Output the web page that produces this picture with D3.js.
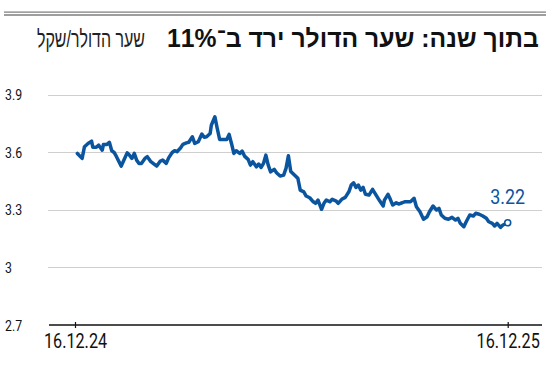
<!DOCTYPE html>
<html>
<head>
<meta charset="utf-8">
<script src="https://cdn.jsdelivr.net/npm/d3@7"></script>
<style>
  body { margin: 0; background: #fff; }
  svg { display: block; }
  .narrow { font-family: "Roboto", "Liberation Sans", sans-serif; }
</style>
</head>
<body>
<div id="chart"></div>
<script>
// day offsets from 16.12.24 and USD/ILS rate
var days = [2, 6, 8, 11, 14, 15, 18, 20, 23, 24, 27, 29, 31, 33, 35, 39, 41, 44, 46, 48,
    50, 52, 54, 56, 59, 61, 64, 67, 69, 72, 74, 77, 79, 82, 84, 86, 89, 91, 94, 96,
    99, 101, 104, 107, 109, 111, 114, 115, 118, 120, 122, 125, 128, 130, 132, 134, 136, 139, 141, 143,
    146, 148, 150, 153, 155, 157, 159, 161, 163, 165, 168, 170, 173, 176, 178, 180, 182, 186, 188, 190,
    193, 195, 198, 201, 203, 205, 208, 210, 212, 215, 217, 220, 222, 225, 228, 231, 233, 235, 237, 239,
    241, 243, 245, 248, 251, 254, 257, 260, 261, 264, 266, 268, 271, 273, 276, 278, 283, 286, 288, 291,
    294, 297, 299, 302, 305, 307, 309, 312, 315, 318, 321, 323, 325, 328, 330, 333, 336, 338, 341, 344,
    347, 349, 352, 354, 356, 359, 361, 365];
var rates = [3.594, 3.568, 3.629, 3.646, 3.658, 3.626, 3.626, 3.637, 3.611, 3.641, 3.641, 3.652, 3.608, 3.599, 3.577, 3.528, 3.556, 3.597, 3.585, 3.568,
    3.594, 3.559, 3.542, 3.542, 3.568, 3.577, 3.551, 3.537, 3.528, 3.554, 3.559, 3.542, 3.571, 3.599, 3.608, 3.603, 3.622, 3.641, 3.649, 3.652,
    3.681, 3.646, 3.655, 3.695, 3.678, 3.681, 3.698, 3.741, 3.785, 3.724, 3.667, 3.667, 3.667, 3.693, 3.646, 3.594, 3.608, 3.594, 3.606, 3.580,
    3.563, 3.533, 3.551, 3.524, 3.539, 3.521, 3.542, 3.585, 3.533, 3.498, 3.511, 3.493, 3.476, 3.481, 3.516, 3.582, 3.500, 3.476, 3.464, 3.403,
    3.394, 3.372, 3.363, 3.342, 3.334, 3.351, 3.303, 3.334, 3.351, 3.342, 3.355, 3.347, 3.334, 3.355, 3.365, 3.394, 3.429, 3.441, 3.417, 3.429,
    3.403, 3.417, 3.381, 3.377, 3.407, 3.377, 3.347, 3.320, 3.351, 3.381, 3.355, 3.325, 3.337, 3.330, 3.337, 3.342, 3.342, 3.360, 3.316, 3.290,
    3.251, 3.264, 3.290, 3.320, 3.299, 3.308, 3.273, 3.256, 3.251, 3.261, 3.247, 3.256, 3.230, 3.212, 3.238, 3.273, 3.268, 3.282, 3.277, 3.268,
    3.256, 3.238, 3.230, 3.216, 3.230, 3.209, 3.221, 3.233];
var yTicks = [2.7, 3, 3.3, 3.6, 3.9];
var xTickDays = [0, 365];
var xTickLabels = ['16.12.24', '16.12.25'];
var lastLabel = '3.22';
var title = 'בתוך שנה: שער הדולר ירד ב־11%';
var subtitle = 'שער הדולר/שקל';

var width = 550,
    height = 372;
var blue = '#0b559f';

var svg = d3
    .select('#chart')
    .append('svg')
    .attr('width', width)
    .attr('height', height);

var x = d3.scaleLinear().domain([0, 365]).range([75, 507.7]);
var y = d3.scaleLinear().domain([2.7, 3.9]).range([325, 94.7]);

// top double rule
svg.append('rect').attr('x', 4).attr('y', 11.5).attr('width', 542).attr('height', 1.2).attr('fill', '#7a7a7a');
svg.append('rect').attr('x', 4).attr('y', 14).attr('width', 542).attr('height', 2).attr('fill', '#9e9e9e');

// title + subtitle, squeezed to the widths in the picture
function fitText(sel, x0, x1) {
    var w = sel.node().getComputedTextLength();
    var sx = (x1 - x0) / w;
    sel.attr('x', 0).attr('transform', 'translate(' + x0 + ',0) scale(' + sx + ',1)');
}
// condensed look for the number labels
function squeeze(sel, k) {
    sel.each(function () {
        var w = this.getComputedTextLength();
        d3.select(this).attr('textLength', w * k).attr('lengthAdjust', 'spacingAndGlyphs');
    });
}
var t1 = svg.append('text')
    .attr('y', 47.5)
    .attr('direction', 'rtl')
    .attr('text-anchor', 'end')
    .style('font-family', '"Liberation Sans", "DejaVu Sans", sans-serif')
    .style('font-weight', 'bold')
    .style('font-size', '25px')
    .attr('fill', '#111')
    .text(title);
fitText(t1, 167, 539);
var t2 = svg.append('text')
    .attr('y', 47.5)
    .attr('direction', 'rtl')
    .attr('text-anchor', 'end')
    .style('font-family', '"Liberation Sans", "DejaVu Sans", sans-serif')
    .style('font-size', '24px')
    .attr('fill', '#222')
    .text(subtitle);
fitText(t2, 37, 145);

// gridlines
svg.append('g')
    .selectAll('line')
    .data(yTicks.filter(function (d) { return d > 2.7; }))
    .enter()
    .append('line')
    .attr('x1', 48)
    .attr('x2', 542)
    .attr('y1', function (d) { return Math.round(y(d)) + 0.5; })
    .attr('y2', function (d) { return Math.round(y(d)) + 0.5; })
    .attr('stroke', '#cfcfcf')
    .attr('stroke-width', 1);

// y labels
var yl = svg.append('g')
    .selectAll('text')
    .data(yTicks)
    .enter()
    .append('text')
    .attr('class', 'narrow')
    .attr('x', 5)
    .attr('y', function (d) { return y(d) + 5.5; })
    .style('font-size', '15px')
    .attr('fill', '#111')
    .text(function (d) { return d3.format('')(d); });
squeeze(yl, 0.82);

// x axis
var xAxis = d3.axisBottom(x)
    .tickValues(xTickDays)
    .tickSize(0)
    .tickFormat(function (d, i) { return xTickLabels[i]; });
var gx = svg.append('g')
    .attr('transform', 'translate(0,' + y(2.7) + ')')
    .call(xAxis);
gx.select('.domain').remove();
gx.append('line')
    .attr('x1', 49).attr('x2', 542)
    .attr('stroke', '#111').attr('stroke-width', 1.5);
gx.selectAll('.tick').append('line')
    .attr('y1', -3).attr('y2', 3)
    .attr('stroke', '#111').attr('stroke-width', 1.2);
var xl = gx.selectAll('.tick text')
    .attr('class', 'narrow')
    .attr('y', 23)
    .attr('dy', 0)
    .style('font-size', '20px')
    .attr('fill', '#111');
squeeze(xl, 0.81);

// the line
var line = d3.line()
    .x(function (d, i) { return x(days[i]); })
    .y(function (d) { return y(d); });
svg.append('path')
    .datum(rates)
    .attr('d', line)
    .attr('fill', 'none')
    .attr('stroke', blue)
    .attr('stroke-width', 3.5)
    .attr('stroke-linejoin', 'round')
    .attr('stroke-linecap', 'round');

var lastI = rates.length - 1;
svg.append('circle')
    .attr('cx', x(days[lastI]))
    .attr('cy', y(rates[lastI]))
    .attr('r', 3)
    .attr('fill', '#fff')
    .attr('stroke', blue)
    .attr('stroke-width', 1.6);

var ll = svg.append('text')
    .attr('class', 'narrow')
    .attr('x', x(days[lastI]))
    .attr('y', 203.5)
    .attr('text-anchor', 'middle')
    .style('font-size', '21px')
    .attr('fill', blue)
    .text(lastLabel);
squeeze(ll, 0.85);
</script>
</body>
</html>
